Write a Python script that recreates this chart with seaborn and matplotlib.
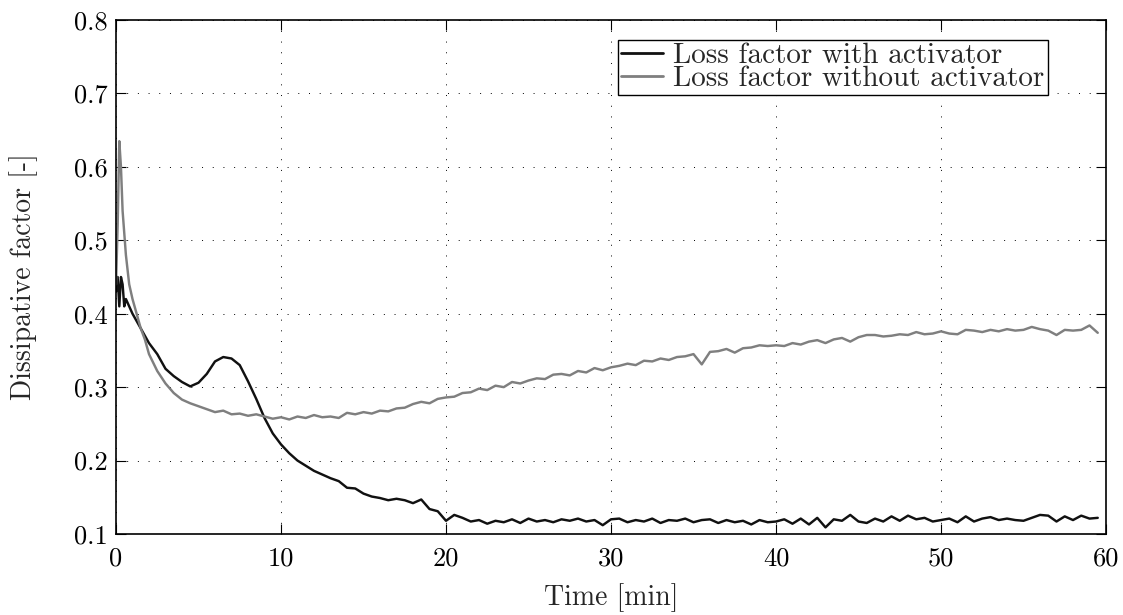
import numpy as np
import pandas as pd
import matplotlib
matplotlib.use("Agg")
import matplotlib.pyplot as plt
import seaborn as sns

# ---- data ----
time_min = [0.0, 0.1, 0.2, 0.3, 0.4, 0.5, 0.6, 0.8, 1.0, 1.25, 1.5, 1.75,
            2.0, 2.5, 3.0, 3.5, 4.0, 4.5, 5.0, 5.5, 6.0, 6.5, 7.0, 7.5,
            8.0, 8.5, 9.0, 9.5, 10.0, 10.5, 11.0, 11.5, 12.0, 12.5, 13.0, 13.5,
            14.0, 14.5, 15.0, 15.5, 16.0, 16.5, 17.0, 17.5, 18.0, 18.5, 19.0, 19.5,
            20.0, 20.5, 21.0, 21.5, 22.0, 22.5, 23.0, 23.5, 24.0, 24.5, 25.0, 25.5,
            26.0, 26.5, 27.0, 27.5, 28.0, 28.5, 29.0, 29.5, 30.0, 30.5, 31.0, 31.5,
            32.0, 32.5, 33.0, 33.5, 34.0, 34.5, 35.0, 35.5, 36.0, 36.5, 37.0, 37.5,
            38.0, 38.5, 39.0, 39.5, 40.0, 40.5, 41.0, 41.5, 42.0, 42.5, 43.0, 43.5,
            44.0, 44.5, 45.0, 45.5, 46.0, 46.5, 47.0, 47.5, 48.0, 48.5, 49.0, 49.5,
            50.0, 50.5, 51.0, 51.5, 52.0, 52.5, 53.0, 53.5, 54.0, 54.5, 55.0, 55.5,
            56.0, 56.5, 57.0, 57.5, 58.0, 58.5, 59.0, 59.5]

with_activator = [0.43, 0.45, 0.41, 0.45, 0.44, 0.41, 0.42, 0.41, 0.40, 0.39, 0.38, 0.37,
                  0.360, 0.345, 0.325, 0.315, 0.307, 0.301, 0.306, 0.318, 0.335, 0.341, 0.339, 0.330,
                  0.308, 0.284, 0.258, 0.237, 0.222, 0.210, 0.200, 0.193, 0.186, 0.181, 0.176, 0.172,
                  0.163, 0.162, 0.155, 0.151, 0.149, 0.146, 0.148, 0.146, 0.142, 0.147, 0.134, 0.131,
                  0.118, 0.126, 0.122, 0.117, 0.119, 0.114, 0.118, 0.116, 0.120, 0.115, 0.121, 0.117,
                  0.119, 0.116, 0.120, 0.118, 0.121, 0.117, 0.119, 0.112, 0.120, 0.121, 0.116, 0.119,
                  0.117, 0.121, 0.115, 0.119, 0.118, 0.121, 0.116, 0.119, 0.120, 0.115, 0.119, 0.116,
                  0.118, 0.113, 0.119, 0.116, 0.117, 0.120, 0.114, 0.121, 0.113, 0.122, 0.109, 0.120,
                  0.118, 0.126, 0.117, 0.115, 0.121, 0.117, 0.124, 0.118, 0.125, 0.120, 0.122, 0.117,
                  0.119, 0.121, 0.116, 0.124, 0.117, 0.121, 0.123, 0.119, 0.121, 0.119, 0.118, 0.122,
                  0.126, 0.125, 0.117, 0.124, 0.119, 0.125, 0.121, 0.122]

without_activator = [0.44, 0.52, 0.635, 0.60, 0.54, 0.51, 0.48, 0.44, 0.42, 0.40, 0.38, 0.365,
                     0.345, 0.322, 0.305, 0.292, 0.283, 0.278, 0.274, 0.270, 0.266, 0.268, 0.263, 0.264,
                     0.261, 0.263, 0.260, 0.257, 0.259, 0.256, 0.260, 0.258, 0.262, 0.259, 0.260, 0.258,
                     0.265, 0.263, 0.266, 0.264, 0.268, 0.267, 0.271, 0.272, 0.277, 0.280, 0.278, 0.284,
                     0.286, 0.287, 0.292, 0.293, 0.298, 0.296, 0.302, 0.300, 0.307, 0.305, 0.309, 0.312,
                     0.311, 0.317, 0.318, 0.316, 0.322, 0.320, 0.326, 0.323, 0.327, 0.329, 0.332, 0.330,
                     0.336, 0.335, 0.339, 0.337, 0.341, 0.342, 0.345, 0.331, 0.348, 0.349, 0.352, 0.347,
                     0.353, 0.354, 0.357, 0.356, 0.357, 0.356, 0.360, 0.358, 0.362, 0.364, 0.360, 0.365,
                     0.367, 0.362, 0.368, 0.371, 0.371, 0.369, 0.370, 0.372, 0.371, 0.375, 0.372, 0.373,
                     0.376, 0.373, 0.372, 0.378, 0.377, 0.375, 0.378, 0.376, 0.379, 0.377, 0.378, 0.382,
                     0.379, 0.377, 0.371, 0.378, 0.377, 0.378, 0.384, 0.374]

series_names = ["Loss factor with activator", "Loss factor without activator"]
series_colors = ["#111111", "#7f7f7f"]
x_ticks = [0, 10, 20, 30, 40, 50, 60]
y_ticks = [0.1, 0.2, 0.3, 0.4, 0.5, 0.6, 0.7, 0.8]

df = pd.concat([
    pd.DataFrame({"Time": time_min, "Value": with_activator, "Series": series_names[0]}),
    pd.DataFrame({"Time": time_min, "Value": without_activator, "Series": series_names[1]}),
], ignore_index=True)

# ---- style ----
sns.set_style("ticks")
plt.rcParams["font.family"] = ["cmr10", "DejaVu Serif"]
plt.rcParams["mathtext.fontset"] = "cm"
plt.rcParams["axes.formatter.use_mathtext"] = True
plt.rcParams["axes.unicode_minus"] = False

FS_TICK = 19
FS_LABEL = 20
FS_LEG = 21

fig = plt.figure(figsize=(11.23, 6.15), dpi=100)
ax = fig.add_axes([116 / 1123, 1 - 534 / 615, (1106 - 116) / 1123, (534 - 20) / 615])

sns.lineplot(data=df, x="Time", y="Value", hue="Series", hue_order=series_names,
             palette=series_colors, linewidth=1.75, ax=ax, legend=True)

ax.set_xlim(0, 60)
ax.set_ylim(0.1, 0.8)
ax.set_xticks(x_ticks)
ax.set_yticks(y_ticks)
ax.set_xticklabels([str(v) for v in x_ticks])
ax.set_yticklabels([f"{v:.1f}" for v in y_ticks])
ax.grid(True, color="black", linestyle=(0, (1, 10)), linewidth=0.7)
ax.tick_params(direction="in", top=True, right=True, length=7, width=0.8,
               labelsize=FS_TICK, colors="black")
ax.tick_params(axis="x", pad=9)
ax.tick_params(axis="y", pad=6)
for s in ax.spines.values():
    s.set_linewidth(1.2)
    s.set_color("black")

ax.set_xlabel("Time [min]", fontsize=FS_LABEL, labelpad=9)
ax.set_ylabel("Dissipative factor [-]", fontsize=FS_LABEL, labelpad=26)

leg = ax.legend(loc="upper right", bbox_to_anchor=(0.941, 0.961), fontsize=FS_LEG,
                frameon=True, fancybox=False, edgecolor="black", framealpha=1,
                handlelength=1.45, handletextpad=0.35, labelspacing=-0.12,
                borderpad=0.1, borderaxespad=0.0)
leg.get_frame().set_linewidth(1.0)
for line in leg.get_lines():
    line.set_linewidth(2.0)

fig.savefig("out.png", dpi=100)
